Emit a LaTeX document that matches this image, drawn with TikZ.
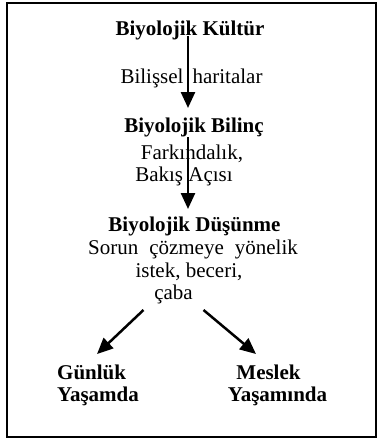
\documentclass[tikz,border=0pt]{standalone}
\usepackage{fontspec}
\setmainfont{Liberation Serif}
\usetikzlibrary{arrows.meta}
\begin{document}
\begin{tikzpicture}[x=1pt,y=-1pt,
  txt/.style={inner sep=0pt,anchor=base,font=\fontsize{21}{25}\selectfont},
  btxt/.style={txt,font=\fontsize{21}{25}\selectfont\bfseries},
  arr/.style={line width=2.5pt,-{Triangle[width=14pt,length=16pt]}},
  frame/.style={line width=2pt}]
\useasboundingbox (0,0) rectangle (377,439);
\draw[frame] (7,3) rectangle (376,437);
\node[btxt] (kultur) at (190,35) {Biyolojik Kültür};
\node[txt] (bilissel) at (191.5,83) {Bilişsel\hspace{9pt}haritalar};
\node[btxt] (bilinc) at (194,132) {Biyolojik Bilinç};
\node[txt] (fark) at (192,159) {Farkındalık,};
\node[txt] (bakis) at (184,181) {Bakış Açısı};
\node[btxt] (dusunme) at (194.5,231) {Biyolojik Düşünme};
\node[txt] (sorun) at (193,254) {Sorun\hspace{11pt}çözmeye\hspace{11pt}yönelik};
\node[txt] (istek) at (189,277) {istek, beceri,};
\node[txt] (caba) at (173.5,299) {çaba};
\node[btxt,anchor=base west] (gunluk) at (57,379) {Günlük};
\node[btxt,anchor=base west] (yasamda) at (57,401) {Yaşamda};
\node[btxt] (meslek) at (268.5,379) {Meslek};
\node[btxt] (yasaminda) at (277.5,401) {Yaşamında};
\draw[arr] ([xshift=-2pt,yshift=-1pt]kultur.base) -- ([xshift=-6pt,yshift=24pt]bilinc.base);
\draw[arr] ([xshift=-6pt,yshift=-5pt]bilinc.base) -- ([xshift=-6.5pt,yshift=22pt]dusunme.base);
\draw[arr] ([xshift=-30pt,yshift=-11pt]caba.base) -- ([xshift=40pt,yshift=25pt]gunluk.base west);
\draw[arr] ([xshift=30pt,yshift=-11pt]caba.base) -- ([xshift=-12.5pt,yshift=25pt]meslek.base);
\end{tikzpicture}
\end{document}
